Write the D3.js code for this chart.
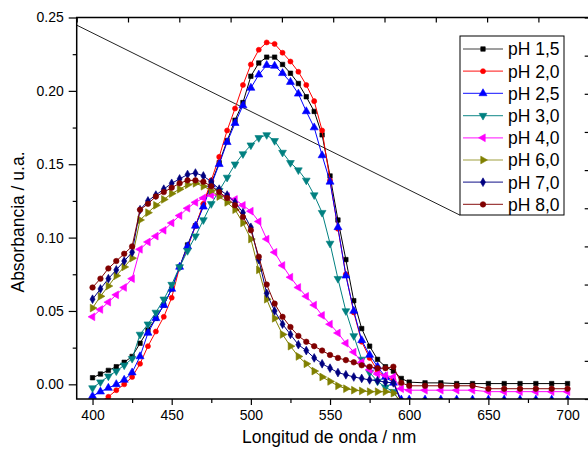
<!DOCTYPE html>
<html>
<head>
<meta charset="utf-8">
<script src="https://cdn.jsdelivr.net/npm/d3@7"></script>
<style>
  html, body { margin: 0; padding: 0; background: #fff; }
  svg { display: block; font-family: "Liberation Sans", Arial, sans-serif; }
</style>
</head>
<body>
<svg id="chart" width="588" height="453"></svg>
<script>
// Wavelength grid (nm)
const wavelengths = [400,405,410,415,420,425,430,435,440,445,450,455,460,465,470,475,480,485,490,495,
  500,505,510,515,520,525,530,535,540,545,550,555,560,565,570,575,580,585,590,595,
  600,610,620,630,640,650,660,670,680,690,700];

// Absorbance spectra for each pH
const pH15 = [0.0045,0.007,0.0095,0.012,0.015,0.019,0.028,0.037,0.045,0.054,0.065,0.080,0.095,0.108,0.122,0.137,0.151,0.166,0.180,0.192,
  0.210,0.219,0.223,0.223,0.218,0.212,0.205,0.196,0.186,0.170,0.142,0.112,0.085,0.057,0.038,0.026,0.017,0.012,0.009,0.004,
  0.0015,0.001,0.001,0.0005,0.0005,0.0005,0.0005,0.0005,0.0005,0.0005,0.0005];
const pH20 = [-0.014,-0.012,-0.0085,-0.004,0.000,0.005,0.014,0.026,0.036,0.046,0.059,0.080,0.093,0.108,0.123,0.139,0.155,0.173,0.188,0.204,
  0.218,0.228,0.233,0.232,0.226,0.220,0.213,0.204,0.193,0.173,0.139,0.106,0.075,0.049,0.029,0.018,0.0095,0.005,0.003,-0.013,
  -0.013,-0.013,-0.013,-0.013,-0.013,-0.013,-0.013,-0.013,-0.013,-0.013,-0.013];
const pH25 = [-0.008,-0.005,-0.0025,0.000,0.003,0.008,0.019,0.035,0.045,0.054,0.065,0.080,0.094,0.108,0.121,0.136,0.150,0.165,0.178,0.190,
  0.202,0.211,0.2175,0.217,0.212,0.206,0.198,0.186,0.175,0.156,0.138,0.107,0.074,0.050,0.030,0.020,0.012,0.005,0.001,-0.0105,
  -0.0105,-0.0105,-0.0105,-0.0105,-0.0105,-0.0105,-0.0105,-0.0105,-0.0105,-0.0105,-0.0105];
const pH30 = [-0.0025,0.0015,0.0055,0.009,0.013,0.0175,0.034,0.041,0.049,0.058,0.068,0.080,0.091,0.101,0.112,0.123,0.132,0.141,0.150,0.157,
  0.163,0.168,0.170,0.166,0.158,0.151,0.146,0.139,0.129,0.117,0.096,0.072,0.050,0.033,0.017,0.008,0.002,-0.002,-0.005,-0.013,
  -0.013,-0.013,-0.013,-0.013,-0.013,-0.013,-0.013,-0.013,-0.013,-0.013,-0.013];
const pH40 = [0.046,0.051,0.056,0.061,0.066,0.072,0.092,0.097,0.101,0.105,0.110,0.115,0.120,0.124,0.127,0.129,0.129,0.128,0.126,0.122,
  0.118,0.111,0.099,0.090,0.081,0.073,0.066,0.060,0.054,0.047,0.041,0.035,0.028,0.022,0.015,0.010,0.007,0.006,0.005,-0.003,
  -0.004,-0.004,-0.004,-0.004,-0.004,-0.005,-0.005,-0.005,-0.005,-0.005,-0.005];
const pH60 = [0.052,0.060,0.067,0.074,0.080,0.086,0.112,0.117,0.122,0.126,0.130,0.133,0.136,0.137,0.135,0.132,0.128,0.124,0.119,0.110,
  0.099,0.078,0.058,0.045,0.034,0.026,0.019,0.014,0.009,0.005,0.002,-0.001,-0.003,-0.004,-0.0045,-0.005,-0.005,-0.005,-0.006,-0.012,
  -0.012,-0.012,-0.012,-0.012,-0.012,-0.012,-0.012,-0.012,-0.012,-0.012,-0.012];
const pH70 = [0.058,0.065,0.072,0.078,0.084,0.090,0.119,0.125,0.129,0.133,0.137,0.140,0.143,0.144,0.142,0.138,0.133,0.129,0.124,0.117,
  0.107,0.085,0.062,0.050,0.041,0.034,0.027,0.023,0.018,0.014,0.011,0.008,0.0065,0.005,0.004,0.003,0.0025,0.0015,0.001,-0.012,
  -0.012,-0.012,-0.012,-0.012,-0.012,-0.012,-0.012,-0.012,-0.012,-0.012,-0.012];
const pH80 = [0.066,0.072,0.079,0.084,0.089,0.094,0.119,0.123,0.128,0.131,0.134,0.137,0.139,0.139,0.138,0.135,0.131,0.127,0.122,0.114,
  0.105,0.087,0.068,0.055,0.046,0.039,0.033,0.029,0.026,0.023,0.020,0.018,0.0165,0.015,0.013,0.012,0.011,0.011,0.012,0.001,
  -0.001,-0.001,-0.001,-0.001,-0.001,-0.003,-0.003,-0.003,-0.003,-0.003,-0.003];

const seriesNames = ["pH 1,5","pH 2,0","pH 2,5","pH 3,0","pH 4,0","pH 6,0","pH 7,0","pH 8,0"];
const seriesValues = [pH15, pH20, pH25, pH30, pH40, pH60, pH70, pH80];
const seriesColors = ["#000000","#ff0000","#0000ff","#008080","#ff00ff","#808000","#000080","#800000"];

// Axis ticks
const xTicks = [400,450,500,550,600,650,700];
const xMinorTicks = [425,475,525,575,625,675];
const yTicks = [0.00,0.05,0.10,0.15,0.20,0.25];
const yMinorTicks = [0.025,0.075,0.125,0.175,0.225];

// Guide line of the second layer (fractions of the frame)
const guideX = [0, 0.747];
const guideY = [0.980, 0.482];

const svg = d3.select("#chart");
const L = 76.7, R = 589.7, T = 17.5, B = 399;

const x = d3.scaleLinear().domain([390, 714]).range([L, R]);
const y = d3.scaleLinear().domain([-0.01, 0.25]).range([B, T]);
const x2 = d3.scaleLinear().domain([0, 1]).range([L, R]);
const y2 = d3.scaleLinear().domain([0, 1]).range([B, T]);

// Marker shapes (symbol type, rotation)
const markerDefs = [
  {type: d3.symbolSquare, rot: 0, size: 20},
  {type: d3.symbolCircle, rot: 0, size: 20},
  {type: d3.symbolTriangle, rot: 0, size: 28},
  {type: d3.symbolTriangle, rot: 180, size: 26},
  {type: d3.symbolTriangle, rot: -90, size: 26},
  {type: d3.symbolTriangle, rot: 90, size: 26},
  {type: d3.symbolDiamond, rot: 0, size: 22},
  {type: d3.symbolCircle, rot: 0, size: 24}
];

svg.append("defs").append("clipPath").attr("id", "plotClip")
  .append("rect").attr("x", L).attr("y", T).attr("width", R - L).attr("height", B - T);

// Guide line
svg.append("line")
  .attr("x1", x2(guideX[0])).attr("y1", y2(guideY[0]))
  .attr("x2", x2(guideX[1])).attr("y2", y2(guideY[1]))
  .attr("stroke", "#222").attr("stroke-width", 1);

// Spectra
const plot = svg.append("g").attr("clip-path", "url(#plotClip)");
const line = d3.line().x(d => x(d[0])).y(d => y(d[1]));
seriesValues.forEach((vals, i) => {
  const pts = wavelengths.map((w, k) => [w, vals[k]]);
  const g = plot.append("g");
  g.append("path").datum(pts).attr("d", line)
    .attr("fill", "none").attr("stroke", seriesColors[i]).attr("stroke-width", 1);
  const m = markerDefs[i];
  const sym = d3.symbol().type(m.type).size(m.size)();
  g.selectAll("path.mk").data(pts).join("path").attr("class", "mk")
    .attr("d", sym)
    .attr("transform", d => `translate(${x(d[0])},${y(d[1])}) rotate(${m.rot})`)
    .attr("fill", seriesColors[i]).attr("stroke", seriesColors[i]).attr("stroke-width", 0.6);
});

// Axes
const axisStyle = g => {
  g.selectAll("path.domain").remove();
  g.selectAll("line").attr("stroke", "#000").attr("stroke-width", 1.2);
  g.selectAll("text").attr("fill", "#000").style("font-size", "14px")
    .style("font-family", "'Liberation Sans', Arial, sans-serif");
};

svg.append("g").attr("transform", `translate(0,${B})`)
  .call(d3.axisBottom(x).tickValues(xTicks).tickSize(6).tickPadding(5).tickFormat(d3.format("d")))
  .call(axisStyle);
svg.append("g").attr("transform", `translate(0,${B})`)
  .call(d3.axisBottom(x).tickValues(xMinorTicks).tickSize(4).tickFormat(""))
  .call(axisStyle);
svg.append("g").attr("transform", `translate(${L},0)`)
  .call(d3.axisLeft(y).tickValues(yTicks).tickSize(8).tickPadding(5).tickFormat(d3.format(".2f")))
  .call(axisStyle);
svg.append("g").attr("transform", `translate(${L},0)`)
  .call(d3.axisLeft(y).tickValues(yMinorTicks).tickSize(4).tickFormat(""))
  .call(axisStyle);
// Second layer axes: top and right, inward ticks
svg.append("g").attr("transform", `translate(0,${T})`)
  .call(d3.axisBottom(x2).ticks(10).tickSize(5).tickFormat(""))
  .call(axisStyle);
svg.append("g").attr("transform", `translate(${R},0)`)
  .call(d3.axisLeft(y2).ticks(10).tickSize(5).tickFormat(""))
  .call(axisStyle);

// Frame
svg.append("rect").attr("x", L).attr("y", T).attr("width", R - L).attr("height", B - T)
  .attr("fill", "none").attr("stroke", "#000").attr("stroke-width", 1.5);

// Axis titles
svg.append("text").attr("x", (L + R) / 2 - 4).attr("y", 443)
  .attr("text-anchor", "middle").style("font-size", "17.5px").text("Longitud de onda / nm");
svg.append("text").attr("transform", `translate(24,${222}) rotate(-90)`)
  .attr("text-anchor", "middle").style("font-size", "17.5px").text("Absorbancia / u.a.");

// Legend
const lg = svg.append("g");
lg.append("rect").attr("x", 460).attr("y", 36).attr("width", 104).attr("height", 179)
  .attr("fill", "#fff").attr("stroke", "#000").attr("stroke-width", 1);
seriesNames.forEach((name, i) => {
  const yy = 49 + i * 22.2;
  lg.append("line").attr("x1", 463).attr("x2", 503).attr("y1", yy).attr("y2", yy)
    .attr("stroke", seriesColors[i]).attr("stroke-width", 1.2).attr("opacity", 0.75);
  const m = markerDefs[i];
  lg.append("path").attr("d", d3.symbol().type(m.type).size(m.size)())
    .attr("transform", `translate(483,${yy}) rotate(${m.rot})`)
    .attr("fill", seriesColors[i]).attr("stroke", seriesColors[i]).attr("stroke-width", 0.6);
  lg.append("text").attr("x", 508).attr("y", yy + 6.3)
    .style("font-size", "17.5px").text(name);
});
</script>
</body>
</html>
